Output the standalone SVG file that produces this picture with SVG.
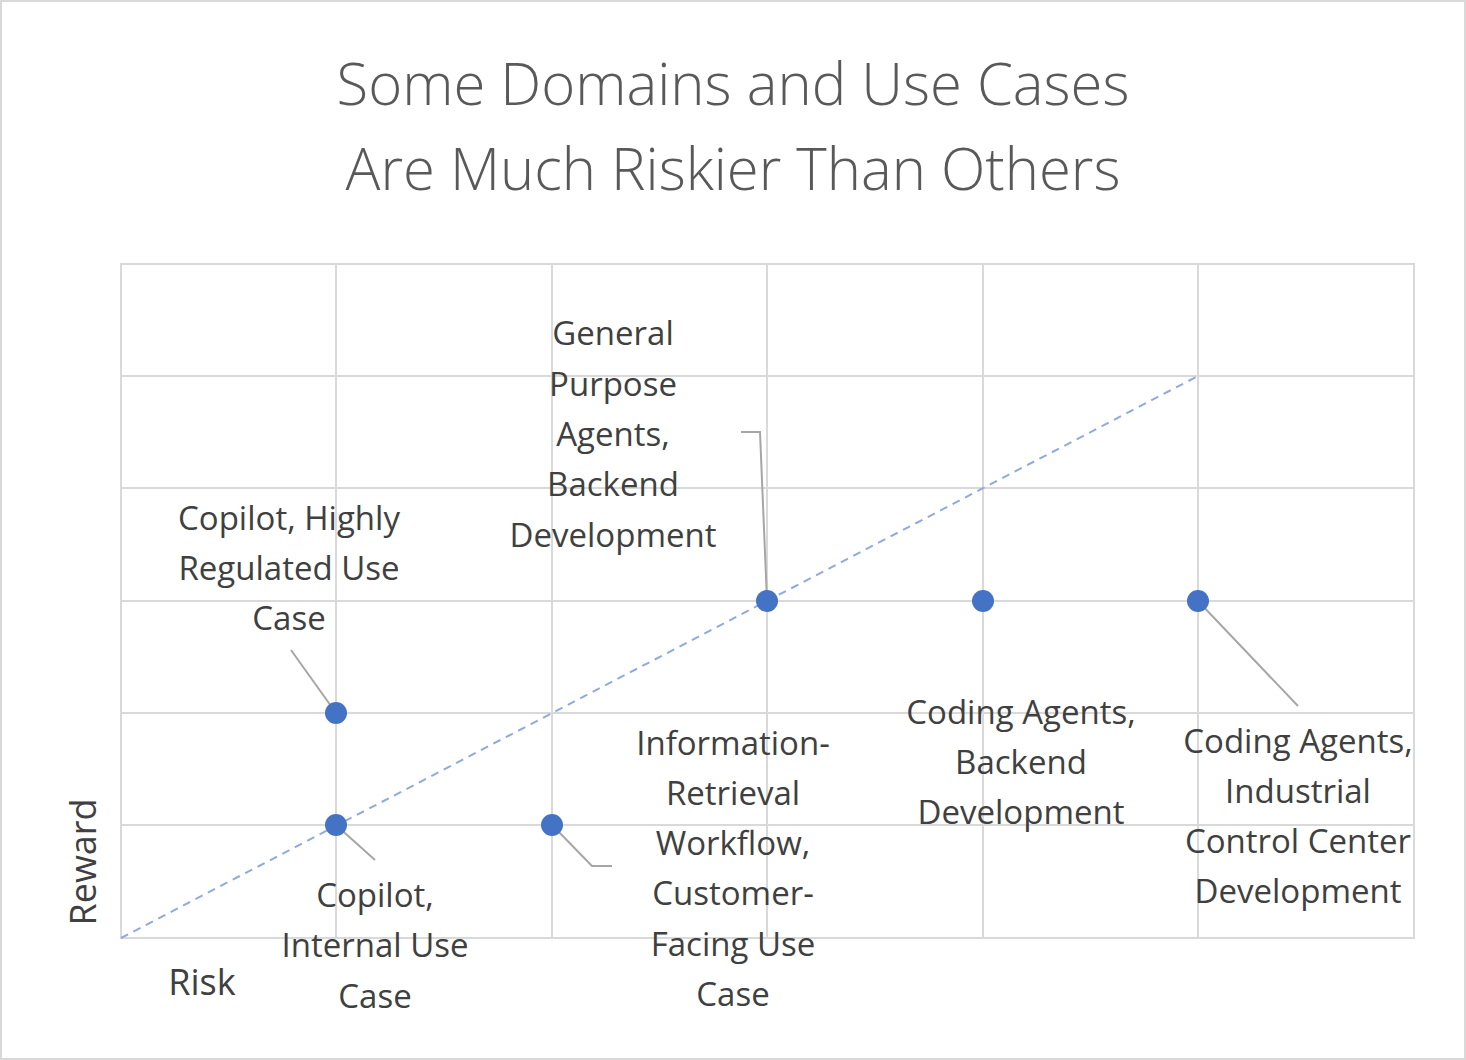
<svg xmlns="http://www.w3.org/2000/svg" width="1466" height="1060" viewBox="0 0 1466 1060">
<style>
.g{stroke:#d9d9d9;stroke-width:2;fill:none}
.ld{stroke:#a6a6a6;stroke-width:2;fill:none}
.pt{fill:#4472c4}
.lb{font-family:"Open Sans","Noto Sans",sans-serif;font-size:33px;fill:#404040;text-anchor:middle}
.t{font-family:"Open Sans","Noto Sans",sans-serif;font-size:58px;fill:#595959;text-anchor:middle;font-weight:300}
</style>
<rect x="1" y="1" width="1464" height="1058" fill="#fff" stroke="#d9d9d9" stroke-width="2"/>
<g id="title"><text class="t" x="733" y="105">Some Domains and Use Cases</text><text class="t" x="733" y="190">Are Much Riskier Than Others</text></g>
<g id="grid">
<rect class="g" x="121" y="264" width="1293" height="674"/>
<path class="g" d="M336 264V938M552 264V938M767 264V938M983 264V938M1198 264V938M121 376H1414M121 488H1414M121 601H1414M121 713H1414M121 825H1414"/>
</g>
<g id="connectors">
<path d="M121 938L1198 376" stroke="#8faadc" stroke-width="2" stroke-dasharray="8,6" fill="none"/>
<path class="ld" d="M291 650L336 713M336 825L375 860M552 825L592 866H612M767 601L760 432H741M1198 601L1298 706"/>
</g>
<g id="points">
<circle class="pt" cx="336" cy="713" r="11"/><circle class="pt" cx="336" cy="825" r="11"/><circle class="pt" cx="552" cy="825" r="11"/><circle class="pt" cx="767" cy="601" r="11"/><circle class="pt" cx="983" cy="601" r="11"/><circle class="pt" cx="1198" cy="601" r="11"/>
</g>
<g id="labels">
<text class="lb"><tspan x="289" y="530">Copilot, Highly</tspan><tspan x="289" y="580">Regulated Use</tspan><tspan x="289" y="630">Case</tspan></text>
<text class="lb"><tspan x="613" y="345">General</tspan><tspan x="613" y="396">Purpose</tspan><tspan x="613" y="446">Agents,</tspan><tspan x="613" y="496">Backend</tspan><tspan x="613" y="547">Development</tspan></text>
<text class="lb"><tspan x="733" y="755">Information-</tspan><tspan x="733" y="805">Retrieval</tspan><tspan x="733" y="855">Workflow,</tspan><tspan x="733" y="905">Customer-</tspan><tspan x="733" y="956">Facing Use</tspan><tspan x="733" y="1006">Case</tspan></text>
<text class="lb"><tspan x="1021" y="724">Coding Agents,</tspan><tspan x="1021" y="774">Backend</tspan><tspan x="1021" y="824">Development</tspan></text>
<text class="lb"><tspan x="1298" y="753">Coding Agents,</tspan><tspan x="1298" y="803">Industrial</tspan><tspan x="1298" y="853">Control Center</tspan><tspan x="1298" y="903">Development</tspan></text>
<text class="lb"><tspan x="375" y="907">Copilot,</tspan><tspan x="375" y="957">Internal Use</tspan><tspan x="375" y="1008">Case</tspan></text>
<text class="lb" x="202" y="995" style="font-size:36px">Risk</text>
<text class="lb" transform="translate(96 862) rotate(-90)" style="font-size:36px">Reward</text>
</g>
</svg>
